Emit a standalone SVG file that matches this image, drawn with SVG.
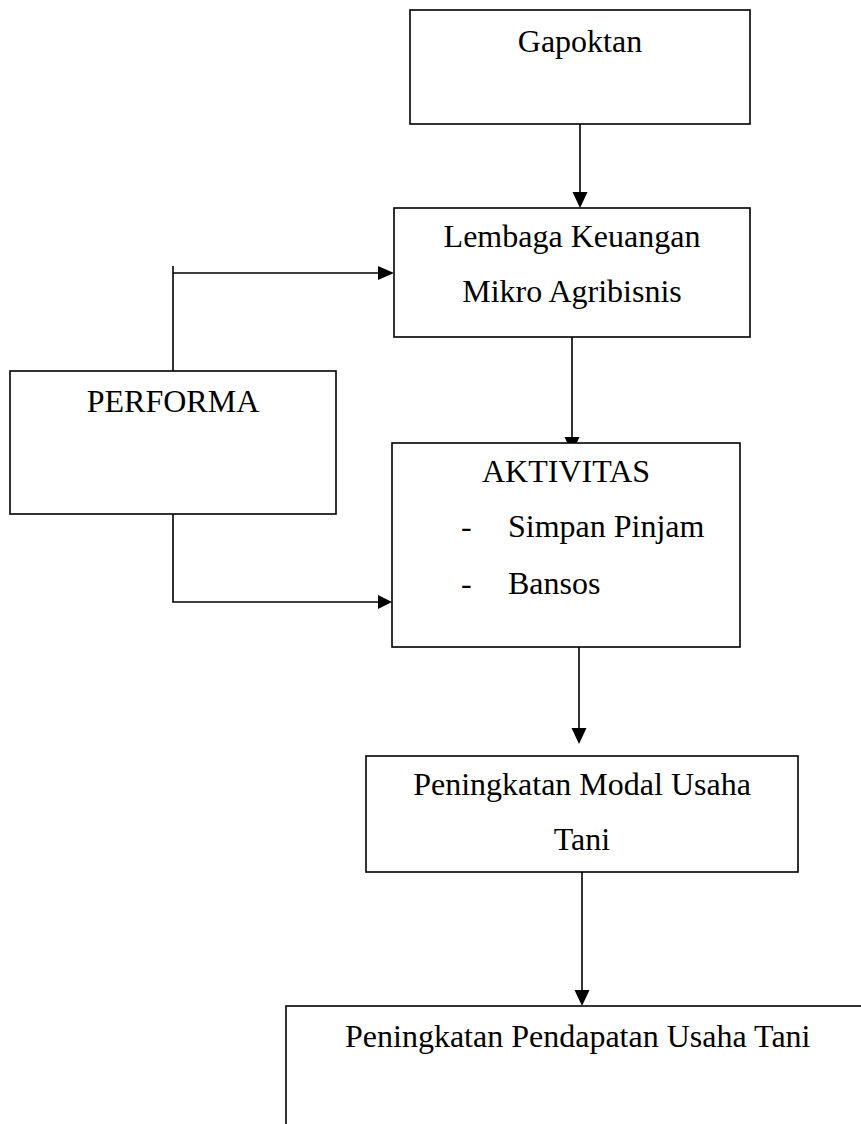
<svg xmlns="http://www.w3.org/2000/svg" width="861" height="1124" viewBox="0 0 861 1124">
<style>
.box{fill:#fff;stroke:#000;stroke-width:1.6}
.ln{fill:none;stroke:#000;stroke-width:1.6}
.hd{fill:#000}
text{font-family:"Liberation Serif","Times New Roman",serif;font-size:32px;fill:#000}
.c{text-anchor:middle}
</style>
<rect width="861" height="1124" fill="#fff"/>
<g id="connectors">
<line class="ln" x1="580" y1="124" x2="580" y2="193"/>
<polygon class="hd" points="572.5,192 587.5,192 580,208"/>
<polyline class="ln" points="173,266 173,371"/>
<line class="ln" x1="173" y1="273" x2="380" y2="273"/>
<polygon class="hd" points="378,266 378,280 394,273"/>
<polyline class="ln" points="173,514 173,602 380,602"/>
<polygon class="hd" points="378,595 378,609 392,602"/>
<line class="ln" x1="572" y1="337" x2="572" y2="445"/>
<polygon class="hd" points="564.5,437 579.5,437 572,453"/>
<line class="ln" x1="579" y1="647" x2="579" y2="730"/>
<polygon class="hd" points="571.5,728 586.5,728 579,744"/>
<line class="ln" x1="582" y1="872" x2="582" y2="992"/>
<polygon class="hd" points="574.5,990 589.5,990 582,1006"/>
</g>
<g id="gapoktan">
<rect class="box" x="410" y="10" width="340" height="114"/>
<text class="c" x="580" y="52">Gapoktan</text>
</g>
<g id="lembaga">
<rect class="box" x="394" y="208" width="356" height="129"/>
<text class="c" x="572" y="247">Lembaga Keuangan</text>
<text class="c" x="572" y="302">Mikro Agribisnis</text>
</g>
<g id="performa">
<rect class="box" x="10" y="371" width="326" height="143"/>
<text class="c" x="173" y="412">PERFORMA</text>
</g>
<g id="aktivitas">
<rect class="box" x="392" y="443" width="348" height="204"/>
<text class="c" x="566" y="482">AKTIVITAS</text>
<text x="461" y="537">-</text>
<text x="508" y="537">Simpan Pinjam</text>
<text x="461" y="594">-</text>
<text x="508" y="594">Bansos</text>
</g>
<g id="modal">
<rect class="box" x="366" y="756" width="432" height="116"/>
<text class="c" x="582" y="795">Peningkatan Modal Usaha</text>
<text class="c" x="582" y="850">Tani</text>
</g>
<g id="pendapatan">
<rect class="box" x="286" y="1006" width="640" height="160"/>
<text x="345" y="1047">Peningkatan Pendapatan Usaha Tani</text>
</g>
</svg>
